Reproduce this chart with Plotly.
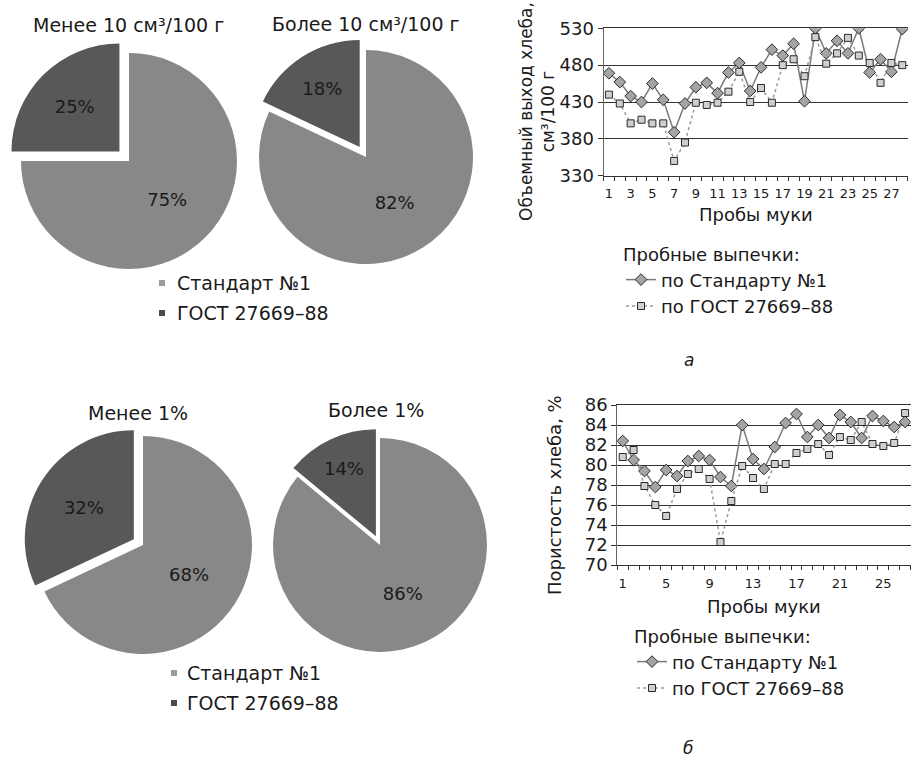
import plotly.graph_objects as go

W, H = 912, 760
FONT = "DejaVu Sans"
TXT = "#1a1a1a"


def px(x):
    return x / W


def py(y):
    return 1 - y / H


# ---------------- data ----------------
pie_labels = ["Стандарт №1", "ГОСТ 27669–88"]
pie_vol_less = [75, 25]
pie_vol_more = [82, 18]
pie_por_less = [68, 32]
pie_por_more = [86, 14]
pie_titles = ["Менее 10 см³/100 г", "Более 10 см³/100 г", "Менее 1%", "Более 1%"]

vol_samples = list(range(1, 29))
vol_std = [469, 457, 438, 430, 455, 433, 389, 428, 450, 456, 442, 470, 483, 445,
           477, 501, 493, 509, 431, 530, 496, 513, 496, 530, 470, 488, 471, 529]
vol_gost = [440, 428, 401, 406, 401, 401, 350, 375, 429, 426, 429, 444, 471, 430,
            449, 429, 480, 488, 465, 518, 482, 496, 517, 493, 483, 456, 483, 480]

por_samples = list(range(1, 28))
por_std = [82.4, 80.5, 79.4, 77.8, 79.5, 78.9, 80.4, 80.9, 80.5, 78.8, 77.9, 84.0,
           80.6, 79.6, 81.8, 84.2, 85.1, 82.8, 84.0, 82.7, 85.0, 84.3, 82.7, 84.9,
           84.4, 83.8, 84.3]
por_gost = [80.8, 81.5, 77.9, 76.0, 74.9, 77.6, 79.1, 79.6, 78.6, 72.3, 76.4, 79.9,
            78.7, 77.6, 80.1, 80.1, 81.2, 81.6, 82.1, 81.0, 82.8, 82.5, 84.3, 82.1,
            81.9, 82.2, 85.2]

series_names = ["по Стандарту №1", "по ГОСТ 27669–88"]

# ---------------- styles ----------------
PIE_COLORS = ["#888888", "#585858"]

fig = go.Figure()


def add_pie(values, cx, cy, r, pull):
    half = r * (1 + pull)
    fig.add_trace(go.Pie(
        labels=pie_labels, values=values, sort=False, direction="clockwise",
        rotation=0, pull=[0, pull],
        marker=dict(colors=PIE_COLORS, line=dict(width=0)),
        texttemplate="%{value}%", textposition="inside",
        insidetextorientation="horizontal",
        textfont=dict(family=FONT, size=18, color=TXT),
        domain=dict(x=[px(cx - half), px(cx + half)],
                    y=[py(cy + half), py(cy - half)]),
        showlegend=False, hoverinfo="skip",
    ))


add_pie(pie_vol_less, 129, 161, 108, 0.125)
add_pie(pie_vol_more, 366, 157, 107, 0.11)
add_pie(pie_por_less, 143, 545, 109, 0.10)
add_pie(pie_por_more, 380, 545, 107, 0.09)


def add_lines(xs, ys_std, ys_gost, xa, ya, lg):
    fig.add_trace(go.Scatter(
        x=xs, y=ys_std, mode="lines+markers", name=series_names[0],
        line=dict(color="#7a7a7a", width=1.5),
        marker=dict(symbol="diamond", size=9, color="#a4a4a4",
                    line=dict(color="#2a2a2a", width=1)),
        xaxis=xa, yaxis=ya, legend=lg, hoverinfo="skip",
    ))
    fig.add_trace(go.Scatter(
        x=xs, y=ys_gost, mode="lines+markers", name=series_names[1],
        line=dict(color="#9a9a9a", width=1.5, dash="dot"),
        marker=dict(symbol="square", size=7, color="#cfcfcf",
                    line=dict(color="#2a2a2a", width=1)),
        xaxis=xa, yaxis=ya, legend=lg, hoverinfo="skip",
    ))


add_lines(vol_samples, vol_std, vol_gost, "x", "y", "legend")
add_lines(por_samples, por_std, por_gost, "x2", "y2", "legend2")

xcommon = dict(
    showgrid=False, zeroline=False, showline=True, linecolor="#333", linewidth=1,
    mirror=True, automargin=False,
    ticks="outside", ticklen=6, tickcolor="rgba(0,0,0,0)",
    tickfont=dict(family=FONT, size=13, color=TXT),
    minor=dict(tick0=0.5, dtick=1, ticks="outside", ticklen=4, tickcolor="#333"),
    fixedrange=True,
)
ycommon = dict(
    showgrid=True, gridcolor="#333", gridwidth=1, zeroline=False,
    showline=True, linecolor="#666", linewidth=1, automargin=False,
    ticks="outside", ticklen=5, tickcolor="#333",
    tickfont=dict(family=FONT, size=18, color=TXT),
    fixedrange=True,
)

fig.update_layout(
    width=W, height=H,
    margin=dict(l=0, r=0, t=0, b=0, pad=0, autoexpand=False),
    paper_bgcolor="white", plot_bgcolor="white",
    font=dict(family=FONT, color=TXT),
    xaxis=dict(domain=[px(603.5), px(907.7)], range=[0.5, 28.5],
               tickmode="linear", tick0=1, dtick=2, anchor="y", **xcommon),
    yaxis=dict(domain=[py(175.7), py(28.3)], range=[330, 530],
               tickmode="linear", tick0=330, dtick=50, anchor="x", **ycommon),
    xaxis2=dict(domain=[px(617.3), px(910.5)], range=[0.5, 27.5],
                tickmode="linear", tick0=1, dtick=4, anchor="y2", **xcommon),
    yaxis2=dict(domain=[py(565), py(405)], range=[70, 86],
                tickmode="linear", tick0=70, dtick=2, anchor="x2", **ycommon),
    legend=dict(x=px(621), y=py(238), xanchor="left", yanchor="top",
                bgcolor="rgba(0,0,0,0)",
                title=dict(text="Пробные выпечки:", font=dict(family=FONT, size=18, color=TXT)),
                font=dict(family=FONT, size=18, color=TXT)),
    legend2=dict(x=px(632), y=py(620), xanchor="left", yanchor="top",
                 bgcolor="rgba(0,0,0,0)",
                 title=dict(text="Пробные выпечки:", font=dict(family=FONT, size=18, color=TXT)),
                 font=dict(family=FONT, size=18, color=TXT)),
)

annotations = []


def text(x, y, s, size=19, xanchor="center", angle=0):
    annotations.append(dict(
        x=px(x), y=py(y), xref="paper", yref="paper", text=s, showarrow=False,
        xanchor=xanchor, yanchor="middle", textangle=angle,
        font=dict(family=FONT, size=size, color=TXT),
    ))


text(128, 25, pie_titles[0])
text(366, 24, pie_titles[1])
text(138, 413, pie_titles[2])
text(376, 410, pie_titles[3])

# pie legends
shapes = []
for (sx, tx, y1, y2) in [(159, 175, 283, 313), (171, 185, 673, 703)]:
    for y, col, lab in [(y1, "#9c9c9c", pie_labels[0]), (y2, "#4c4c4c", pie_labels[1])]:
        shapes.append(dict(type="rect", xref="paper", yref="paper",
                           x0=px(sx), x1=px(sx + 6), y0=py(y + 3), y1=py(y - 3),
                           fillcolor=col, line=dict(width=0)))
        text(tx, y, lab, xanchor="left")

# axis titles
text(756, 214, "Пробы муки", size=18)
text(764, 606, "Пробы муки", size=18)
text(537, 112, "Объемный выход хлеба,<br>см³/100 г", size=17, angle=-90)
text(554, 495, "Пористость хлеба, %", size=18, angle=-90)

# captions
text(689, 360, "<i>а</i>", size=17)
text(688, 748, "<i>б</i>", size=17)

fig.update_layout(annotations=annotations, shapes=shapes)

fig.write_html("out.html",
               config={"displayModeBar": False},
               post_script="document.body.style.margin='0';document.body.style.padding='0';")
